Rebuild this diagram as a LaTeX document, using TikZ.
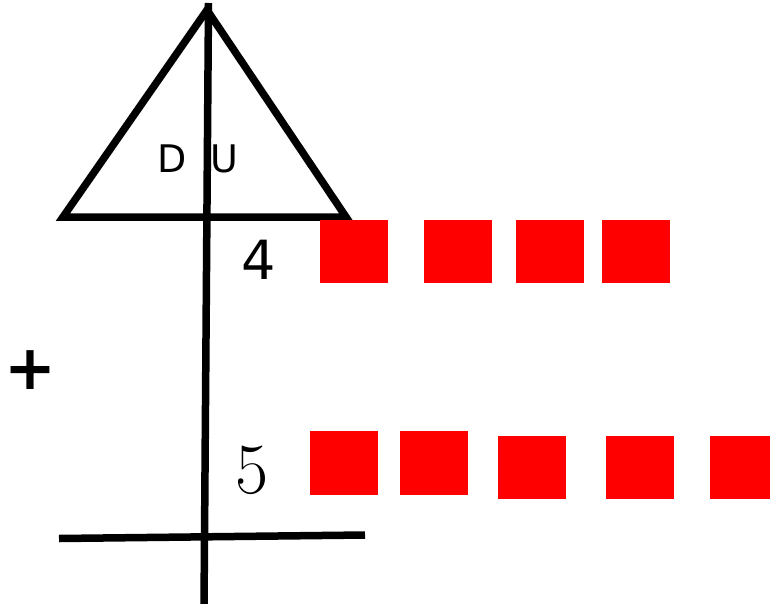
\documentclass[tikz,border=0pt]{standalone}
\usepackage{fontspec}
\newfontfamily\djv{DejaVu Sans}
\begin{document}
\begin{tikzpicture}[x=1pt,y=-1pt,
  thickline/.style={line width=7.5pt,black},
  lbl/.style={inner sep=0pt,font=\djv\fontsize{38}{40}\selectfont},
  sq/.style={fill=red}]
\useasboundingbox (0,0) rectangle (770,604);
\clip (0,0) rectangle (770,604);
% triangle
\coordinate (apex) at (207,10);
\coordinate (bl) at (63,217);
\coordinate (br) at (346,217);
\draw[thickline,line join=miter] (apex) -- (br) -- (bl) -- cycle;
% vertical line
\coordinate (vtop) at (208.5,3);
\coordinate (vbot) at (204,606);
\draw[thickline] (vtop) -- (vbot);
% bottom line
\coordinate (hl) at (59,538.5);
\coordinate (hr) at (365,535);
\draw[thickline] (hl) -- (hr);
% labels
\node[lbl,anchor=base] (d) at (172,172) {D};
\node[lbl,anchor=base] (u) at (224,172) {U};
\node[lbl,anchor=base,font=\djv\fontsize{54}{56}\selectfont] (four) at (259,279) {4};
\node[inner sep=0pt,anchor=base,font=\rmfamily\fontsize{72}{74}\selectfont] (five) at (252,493) {5};
\node[inner sep=0pt,font=\djv\bfseries\fontsize{62}{64}\selectfont] (plus) at (30,370.5) {+};
% top row squares
\fill[sq] (320,220) rectangle (388,283);
\fill[sq] (424,220) rectangle (492,283);
\fill[sq] (516,220) rectangle (584,283);
\fill[sq] (602,220) rectangle (670,283);
% bottom row squares
\fill[sq] (310,431) rectangle (378,495);
\fill[sq] (400,431) rectangle (468,495);
\fill[sq] (498,436) rectangle (566,499);
\fill[sq] (606,436) rectangle (674,499);
\fill[sq] (710,436) rectangle (772,499);
\end{tikzpicture}
\end{document}
